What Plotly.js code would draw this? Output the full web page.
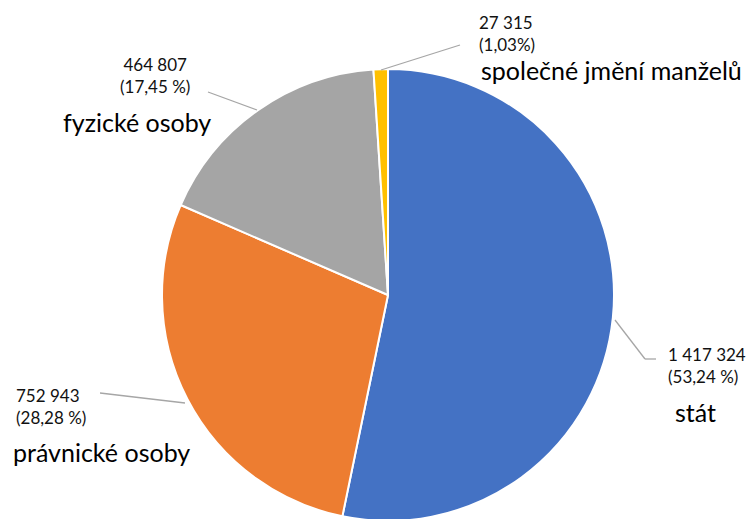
<!DOCTYPE html>
<html>
<head>
<meta charset="utf-8">
<script src="https://cdn.plot.ly/plotly-3.0.1.min.js"></script>
<style>
html,body{margin:0;padding:0;overflow:hidden;background:#fff;}
#chart{width:753px;height:521px;}
</style>
</head>
<body>
<div id="chart"></div>
<script>
const categories = ["stát", "právnické osoby", "fyzické osoby", "společné jmění manželů"];
const values = [1417324, 752943, 464807, 27315];
const percentLabels = ["(53,24 %)", "(28,28 %)", "(17,45 %)", "(1,03%)"];
const colors = ["#4472C4", "#ED7D31", "#A5A5A5", "#FFC000"];

function fmt(v){ return String(v).replace(/\B(?=(\d{3})+(?!\d))/g, " "); }

const W = 753, H = 521, T = 69, B = 0;
const PH = H - T - B;
const px = x => x / W;
const py = y => (H - B - y) / PH;

// label placement (pixels) for each category
const labelPos = [
  {vx: 666, vy: 365, lx: 673, ly: 412, anchor: "left"},
  {vx: 14,  vy: 406, lx: 11,  ly: 452, anchor: "left"},
  {vx: 155, vy: 76,  lx: 137, ly: 122, anchor: "center"},
  {vx: 477, vy: 34,  lx: 479, ly: 70,  anchor: "left"}
];
const leaders = [
  [[615,320],[645,359],[656,359]],
  [[185,403],[100,393]],
  [[257,110],[208,92]],
  [[381,70],[460,45]]
];

const annotations = [];
categories.forEach((c, i) => {
  const p = labelPos[i];
  annotations.push({
    xref: "paper", yref: "paper", x: px(p.vx), y: py(p.vy),
    xanchor: p.anchor, yanchor: "middle", showarrow: false, align: p.anchor,
    text: fmt(values[i]) + "<br>" + percentLabels[i],
    font: {family: "Lato, 'Open Sans', sans-serif", size: 17, color: "#111111"}
  });
  annotations.push({
    xref: "paper", yref: "paper", x: px(p.lx), y: py(p.ly),
    xanchor: p.anchor, yanchor: "middle", showarrow: false,
    text: c,
    font: {family: "Lato, 'Open Sans', sans-serif", size: 25, color: "#000000"}
  });
});

const shapes = [];
leaders.forEach(seg => {
  for (let k = 0; k < seg.length - 1; k++) {
    shapes.push({type: "line", xref: "paper", yref: "paper",
      x0: px(seg[k][0]), y0: py(seg[k][1]), x1: px(seg[k+1][0]), y1: py(seg[k+1][1]),
      line: {color: "#A6A6A6", width: 1.3}});
  }
});

const data = [{
  type: "pie",
  labels: categories,
  values: values,
  sort: false,
  direction: "clockwise",
  rotation: 0,
  textinfo: "none",
  hoverinfo: "label+value+percent",
  marker: {colors: colors, line: {color: "#ffffff", width: 2}},
  domain: {x: [(388 - 226) / W, (388 + 226) / W], y: [0, 1]},
  showlegend: false
}];

const layout = {
  width: W, height: H,
  margin: {l: 0, r: 0, t: T, b: B},
  paper_bgcolor: "#ffffff",
  showlegend: false,
  annotations: annotations,
  shapes: shapes
};

Plotly.newPlot("chart", data, layout, {displayModeBar: false, staticPlot: true});
</script>
</body>
</html>
